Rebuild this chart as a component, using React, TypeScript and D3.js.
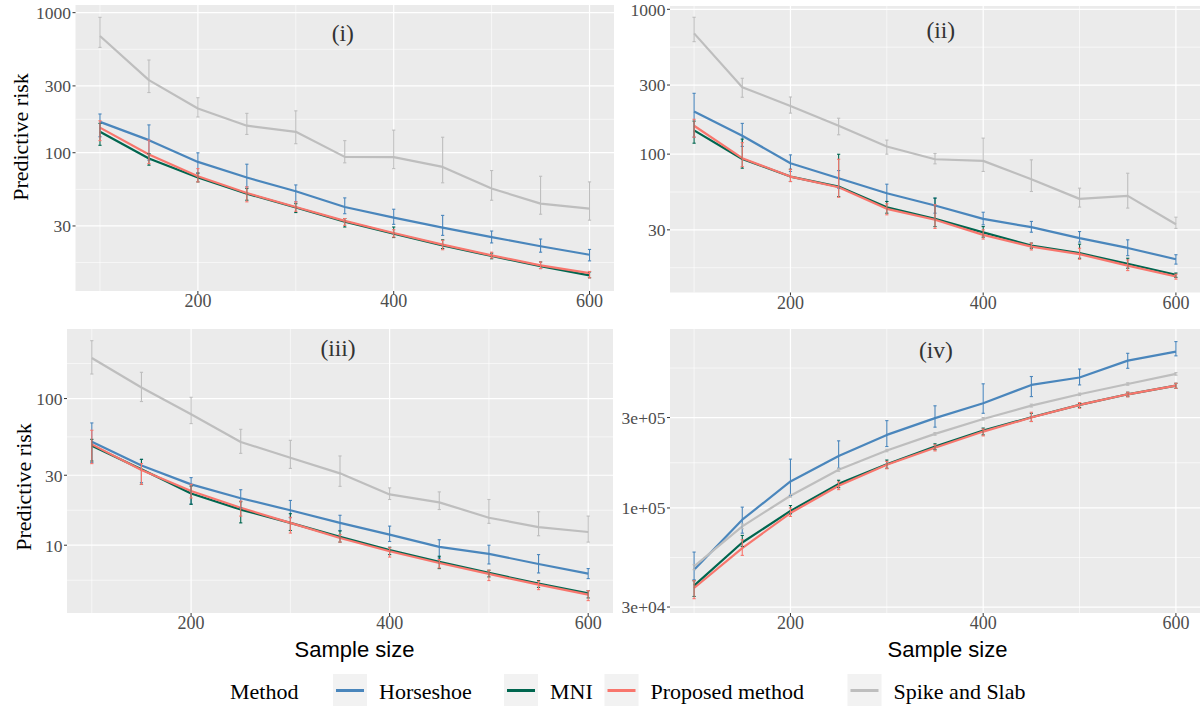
import React from 'react';
import * as d3 from 'd3';

type Triple = [number, number, number]; // [mean, lower, upper]

const sampleSizes = [100, 150, 200, 250, 300, 350, 400, 450, 500, 550, 600];
const methods = ['Horseshoe', 'MNI', 'Proposed method', 'Spike and Slab'];
const methodColors = ['#4A86BC', '#00664F', '#F8766D', '#BEBEBE'];
const xMajorTicks = [200, 400, 600];
const xMinorTicks = [100, 300, 500];

// Panel (i)
const p1Horseshoe: Triple[] = [[166, 130, 189], [123, 88.5, 158], [86, 71, 99.8], [66.5, 57, 82.8], [53.1, 44.6, 58.9], [41, 36.7, 47.6], [34.4, 30.8, 39.5], [29.2, 25.7, 35.7], [25, 22.7, 27.6], [21.5, 19.5, 24.2], [18.7, 16.9, 20.4]];
const p1MNI: Triple[] = [[141, 113, 162], [91, 81.5, 98.6], [66.5, 61.9, 71.8], [51, 45.8, 55.5], [40.6, 37.4, 43.3], [32.2, 29.5, 33.9], [26.4, 24.8, 29.5], [21.8, 20.7, 23.9], [18.3, 17.5, 19.2], [15.5, 14.9, 16.6], [13.3, 12.8, 14.1]];
const p1Proposed: Triple[] = [[151, 122, 169], [97, 83.7, 123], [67.9, 61.9, 77], [51.6, 44.6, 57], [41, 38.2, 44.6], [32.6, 30.3, 33.9], [26.7, 25, 28.2], [22.1, 20.3, 23.7], [18.5, 17.7, 19.5], [15.7, 14.9, 16.6], [13.8, 12.8, 14.2]];
const p1Spike: Triple[] = [[681, 565, 926], [330, 269, 459], [207, 180, 247], [156, 135, 191], [141, 116, 199], [93.4, 84.7, 122], [93, 77, 145], [79.2, 61, 129], [55.5, 45.8, 74.6], [43.3, 36.4, 67.9], [39.9, 33, 61.9]];

// Panel (ii)
const p2Horseshoe: Triple[] = [[197, 131, 263], [134, 113, 163], [86.5, 75.9, 98.8], [68.2, 58.2, 77], [53.7, 47.1, 62], [44.2, 39.1, 49.7], [35.7, 32.5, 39.7], [31.3, 28.9, 34.3], [26.3, 24.7, 29.2], [22.5, 19.9, 25.6], [18.8, 17.4, 20.2]];
const p2MNI: Triple[] = [[146, 119, 169], [92.6, 80, 127], [70, 64.7, 78.6], [59.7, 50.9, 99.8], [43, 39.1, 47.1], [35.7, 31.6, 49.7], [28.8, 26.7, 31.6], [23.4, 22.4, 24.3], [20.7, 19.1, 23.9], [17.5, 16.3, 19.1], [14.7, 14.1, 15.1]];
const p2Proposed: Triple[] = [[157, 131, 174], [93.8, 82, 120], [70, 64.7, 78.6], [59.1, 50.4, 92.2], [41.9, 38.1, 45.4], [35.2, 30.7, 44.7], [27.7, 25.9, 30], [23, 21.8, 24.3], [20.4, 18.8, 22.4], [17, 15.7, 18.6], [14.3, 13.7, 14.8]];
const p2Spike: Triple[] = [[682, 598, 881], [290, 247, 334], [215, 192, 248], [157, 136, 177], [113, 100, 125], [92.2, 85.7, 101], [89.8, 75.9, 129], [67.1, 55.2, 91.3], [49.1, 43.1, 58.2], [51.5, 42.4, 73.8], [32.8, 30.7, 36.7]];

// Panel (iii)
const p3Horseshoe: Triple[] = [[50.8, 36.6, 68.2], [35, 26.7, 38.5], [26, 19.1, 28.9], [20.9, 18, 23.9], [17.3, 15.4, 20.2], [14.2, 12.6, 16], [11.8, 10.6, 13.5], [9.75, 8.18, 10.9], [8.73, 7.45, 10], [7.45, 6.47, 8.63], [6.4, 5.92, 6.93]];
const p3MNI: Triple[] = [[47.6, 37.5, 52.7], [32.9, 26, 38.5], [22.5, 19, 25.3], [17.5, 14.2, 19.8], [14.2, 12.6, 16.4], [11.4, 10.5, 12.5], [9.25, 8.63, 9.69], [7.69, 6.93, 8.41], [6.47, 6.08, 6.75], [5.47, 5.16, 5.74], [4.7, 4.37, 4.9]];
const p3Proposed: Triple[] = [[48.7, 36, 60.8], [32.6, 26, 36], [23.4, 21, 26], [18, 15.8, 20], [14.2, 12.1, 15.5], [11.2, 10.5, 11.8], [9.1, 8.3, 9.6], [7.57, 7, 7.98], [6.37, 5.74, 6.75], [5.38, 4.98, 5.68], [4.6, 4.19, 4.9]];
const p3Spike: Triple[] = [[189, 147, 248], [119, 95.4, 151], [78.2, 67.5, 102], [50.6, 42.3, 61.7], [39.5, 33.4, 51.9], [30.9, 25.2, 40.6], [22.2, 20.5, 24.6], [19.6, 17.5, 23.1], [15.4, 14.1, 20.5], [13.3, 11.6, 16.9], [12.3, 10.5, 15.8]];

// Panel (iv)
const p4Horseshoe: Triple[] = [[47200, 41800, 58500], [86700, 73600, 101000], [138000, 116000, 181000], [188000, 162000, 226000], [243000, 211000, 289000], [298000, 267000, 346000], [357000, 316000, 452000], [446000, 387000, 494000], [488000, 446000, 541000], [599000, 546000, 655000], [668000, 635000, 755000]];
const p4MNI: Triple[] = [[38900, 34100, 41300], [65700, 62600, 71600], [96500, 93100, 103000], [134000, 128000, 140000], [170000, 162000, 179000], [211000, 203000, 218000], [256000, 243000, 264000], [301000, 286000, 316000], [350000, 339000, 357000], [398000, 387000, 408000], [442000, 428000, 455000]];
const p4Proposed: Triple[] = [[37800, 33200, 41300], [61400, 56200, 67900], [94000, 90200, 100000], [131000, 125000, 137000], [169000, 161000, 176000], [208000, 200000, 215000], [253000, 240000, 261000], [300000, 286000, 320000], [350000, 336000, 360000], [398000, 386000, 408000], [442000, 428000, 455000]];
const p4Spike: Triple[] = [[49200, 47200, 50200], [80000, 77700, 82300], [116000, 114000, 118000], [159000, 156000, 162000], [201000, 198000, 204000], [246000, 242000, 250000], [295000, 291000, 300000], [347000, 341000, 353000], [398000, 392000, 404000], [451000, 444000, 458000], [510000, 502000, 518000]];

const p1YTicks = [30, 100, 300, 1000];
const p2YTicks = [30, 100, 300, 1000];
const p3YTicks = [10, 30, 100];
const p4YTicks = [30000, 100000, 300000];

const SERIF = '"Liberation Serif", "Times New Roman", serif';
const SANS = '"Liberation Sans", Arial, sans-serif';

const sciFmt = (v: number) => {
  const e = Math.floor(Math.log10(v) + 1e-9);
  const m = Math.round(v / Math.pow(10, e));
  return `${m}e+${String(e).padStart(2, '0')}`;
};

interface PanelCfg {
  x0: number; x1: number; y0: number; y1: number;
  yMin: number; yMax: number;
  ticks: number[];
  fmt: (v: number) => string;
  series: Triple[][];
  title: string; titleX: number; titleY: number;
  yTitle?: { x: number; y: number };
  xTitle?: { x: number; y: number };
}

const panels: PanelCfg[] = [
  { x0: 75.5, x1: 614, y0: 5, y1: 291, yMin: 10.3, yMax: 1134, ticks: p1YTicks, fmt: (v) => String(v),
    series: [p1Horseshoe, p1MNI, p1Proposed, p1Spike], title: '(i)', titleX: 348, titleY: 41,
    yTitle: { x: 27.5, y: 137 } },
  { x0: 670, x1: 1200, y0: 6, y1: 292.5, yMin: 11.08, yMax: 1054, ticks: p2YTicks, fmt: (v) => String(v),
    series: [p2Horseshoe, p2MNI, p2Proposed, p2Spike], title: '(ii)', titleX: 356, titleY: 37.5 },
  { x0: 67, x1: 613, y0: 329, y1: 613, yMin: 3.45, yMax: 298, ticks: p3YTicks, fmt: (v) => String(v),
    series: [p3Horseshoe, p3MNI, p3Proposed, p3Spike], title: '(iii)', titleX: 348, titleY: 356,
    yTitle: { x: 30.5, y: 487 }, xTitle: { x: 354.5, y: 657 } },
  { x0: 670, x1: 1200, y0: 329, y1: 613, yMin: 27900, yMax: 880000, ticks: p4YTicks, fmt: sciFmt,
    series: [p4Horseshoe, p4MNI, p4Proposed, p4Spike], title: '(iv)', titleX: 351, titleY: 357.5,
    xTitle: { x: 947.5, y: 657 } },
];

function minorBreaks(majorsLog: number[], lo: number, hi: number): number[] {
  let b = majorsLog.slice();
  const bd = b[1] - b[0];
  if (lo < b[0]) b = [b[0] - bd, ...b];
  if (hi > b[b.length - 1]) b = [...b, b[b.length - 1] + bd];
  const out: number[] = [];
  for (let i = 0; i < b.length - 1; i++) out.push((b[i] + b[i + 1]) / 2);
  return out.filter((v) => v >= lo && v <= hi);
}

function Panel({ cfg }: { cfg: PanelCfg }) {
  const x = d3.scaleLinear().domain([75, 625]).range([cfg.x0, cfg.x1]);
  const y = d3.scaleLog().domain([cfg.yMin, cfg.yMax]).range([cfg.y1, cfg.y0]);
  const majorsLog = cfg.ticks.map((t) => Math.log10(t));
  const minors = minorBreaks(majorsLog, Math.log10(cfg.yMin), Math.log10(cfg.yMax)).map((l) => Math.pow(10, l));
  const line = d3.line<Triple>().x((_, i) => x(sampleSizes[i])).y((d) => y(d[0]));
  const cap = 1.6;
  return (
    <g>
      <rect x={cfg.x0} y={cfg.y0} width={cfg.x1 - cfg.x0} height={cfg.y1 - cfg.y0} fill="#EBEBEB" />
      {minors.map((v, i) => (
        <line key={'ym' + i} x1={cfg.x0} x2={cfg.x1} y1={y(v)} y2={y(v)} stroke="#fff" strokeWidth={0.6} />
      ))}
      {xMinorTicks.map((v, i) => (
        <line key={'xm' + i} x1={x(v)} x2={x(v)} y1={cfg.y0} y2={cfg.y1} stroke="#fff" strokeWidth={0.6} />
      ))}
      {cfg.ticks.map((v, i) => (
        <line key={'yM' + i} x1={cfg.x0} x2={cfg.x1} y1={y(v)} y2={y(v)} stroke="#fff" strokeWidth={1.2} />
      ))}
      {xMajorTicks.map((v, i) => (
        <line key={'xM' + i} x1={x(v)} x2={x(v)} y1={cfg.y0} y2={cfg.y1} stroke="#fff" strokeWidth={1.2} />
      ))}
      {cfg.series.map((s, k) => (
        <path key={'l' + k} d={line(s) || ''} fill="none" stroke={methodColors[k]} strokeWidth={2.2} strokeLinejoin="round" />
      ))}
      {cfg.series.map((s, k) => (
        <g key={'e' + k} stroke={methodColors[k]} strokeWidth={1.1} fill="none">
          {s.map((d, i) => {
            const cx = x(sampleSizes[i]);
            return (
              <g key={i}>
                <line x1={cx} x2={cx} y1={y(d[1])} y2={y(d[2])} />
                <line x1={cx - cap} x2={cx + cap} y1={y(d[1])} y2={y(d[1])} />
                <line x1={cx - cap} x2={cx + cap} y1={y(d[2])} y2={y(d[2])} />
              </g>
            );
          })}
        </g>
      ))}
      {cfg.ticks.map((v, i) => (
        <g key={'yt' + i}>
          <line x1={cfg.x0 - 3} x2={cfg.x0} y1={y(v)} y2={y(v)} stroke="#333" strokeWidth={1} />
          <text x={cfg.x0 - 4.5} y={y(v)} dy="0.36em" textAnchor="end" fontFamily={SERIF} fontSize={17.5} fill="#4D4D4D">
            {cfg.fmt(v)}
          </text>
        </g>
      ))}
      {xMajorTicks.map((v, i) => (
        <g key={'xt' + i}>
          <line x1={x(v)} x2={x(v)} y1={cfg.y1} y2={cfg.y1 + 3} stroke="#333" strokeWidth={1} />
          <text x={x(v)} y={cfg.y1 + 16} textAnchor="middle" fontFamily={SERIF} fontSize={18} fill="#4D4D4D">
            {v}
          </text>
        </g>
      ))}
      <text x={x(cfg.titleX)} y={cfg.titleY} textAnchor="middle" fontFamily={SERIF} fontSize={23.5} fill="#333">
        {cfg.title}
      </text>
      {cfg.yTitle && (
        <text transform={`translate(${cfg.yTitle.x},${cfg.yTitle.y}) rotate(-90)`} textAnchor="middle" fontFamily={SERIF} fontSize={22} fill="#000">
          Predictive risk
        </text>
      )}
      {cfg.xTitle && (
        <text x={cfg.xTitle.x} y={cfg.xTitle.y} textAnchor="middle" fontFamily={SANS} fontSize={22} fill="#000">
          Sample size
        </text>
      )}
    </g>
  );
}

const legendKeyX = [333, 504, 604.5, 847.5];

function Legend() {
  return (
    <g>
      <text x={230} y={699} fontFamily={SERIF} fontSize={22} fill="#000">Method</text>
      {methods.map((m, i) => (
        <g key={m}>
          <rect x={legendKeyX[i]} y={674} width={34} height={33} fill="#F2F2F2" />
          <line x1={legendKeyX[i] + 3} x2={legendKeyX[i] + 31} y1={690.5} y2={690.5} stroke={methodColors[i]} strokeWidth={3} />
          <text x={legendKeyX[i] + 46} y={699} fontFamily={SERIF} fontSize={22} fill="#000">{m}</text>
        </g>
      ))}
    </g>
  );
}

export default function App() {
  return (
    <svg width={1203} height={706} style={{ position: 'absolute', left: 0, top: 0, background: '#fff' }}>
      <rect x={0} y={0} width={1203} height={706} fill="#fff" />
      {panels.map((p, i) => (
        <Panel key={i} cfg={p} />
      ))}
      <Legend />
    </svg>
  );
}
